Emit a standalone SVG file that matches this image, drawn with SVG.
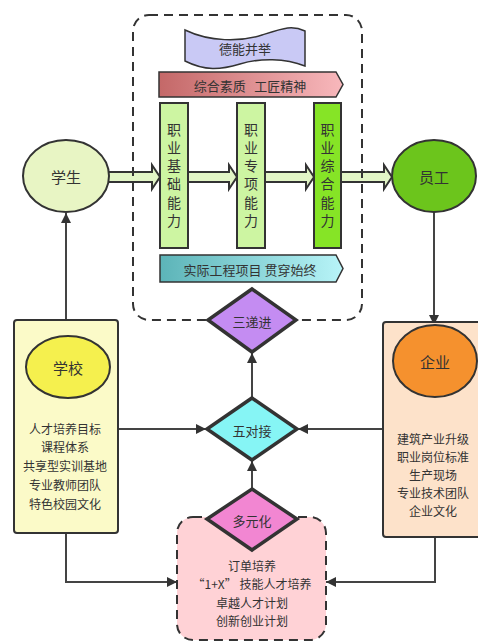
<svg xmlns="http://www.w3.org/2000/svg" width="478" height="642" viewBox="0 0 478 642">
<defs>
<linearGradient id="gRed" x1="0" y1="0" x2="1" y2="0"><stop offset="0" stop-color="#c46868"/><stop offset="1" stop-color="#f8b8bc"/></linearGradient>
<linearGradient id="gTeal" x1="0" y1="0" x2="1" y2="0"><stop offset="0" stop-color="#5cb4b8"/><stop offset="1" stop-color="#b8f4f8"/></linearGradient>
<marker id="ah" viewBox="0 0 10 10" refX="10" refY="5" markerWidth="10" markerHeight="10" markerUnits="userSpaceOnUse" orient="auto"><path d="M0,0 L10,5 L0,10 Z" fill="#333"/></marker>
<style>
text{font-family:"Noto Sans CJK SC","Noto Sans",sans-serif;fill:#333;text-anchor:middle;dominant-baseline:central}
.t{font-size:13px}
.s{font-size:12px}
.b{font-size:15px}
.v{font-size:14px;writing-mode:vertical-rl;letter-spacing:4.2px}
.ln{fill:none;stroke:#444;stroke-width:2}
.fat{fill:#e2f5c6;stroke:#333;stroke-width:2}
.dia{stroke:#333;stroke-width:3.5}
.box{stroke:#333;stroke-width:2}
</style>
</defs>
<g id="connectors">
<path class="ln" d="M66,320 L66,213" marker-end="url(#ah)"/>
<path class="ln" d="M434,212 L434,325" marker-end="url(#ah)"/>
<path class="ln" d="M252,398 L252,353" marker-end="url(#ah)"/>
<path class="ln" d="M252,489 L252,461" marker-end="url(#ah)"/>
<path class="ln" d="M118,429 L206,429" marker-end="url(#ah)"/>
<path class="ln" d="M383,429 L298,429" marker-end="url(#ah)"/>
<path class="ln" d="M66,533 L66,582 L177,582" marker-end="url(#ah)"/>
<path class="ln" d="M435,537 L435,582 L326,582" marker-end="url(#ah)"/>
<polygon class="fat" points="108,172 152,172 152,165 160,177 152,189 152,182 108,182"/>
<polygon class="fat" points="188,172 229,172 229,165 237,177 229,189 229,182 188,182"/>
<polygon class="fat" points="265,172 306,172 306,165 314,177 306,189 306,182 265,182"/>
<polygon class="fat" points="341,172 384,172 384,165 392,177 384,189 384,182 341,182"/>
</g>
<g id="container">
<rect x="133" y="15" width="229" height="305" rx="16" fill="none" stroke="#333" stroke-width="2" stroke-dasharray="9 6"/>
</g>
<g id="deneng">
<path d="M185,30 C210,42 240,42 262,35 S292,25 305,31 L305,66 C285,58 260,58 240,64 S205,71 185,61 Z" fill="#c9c9f5" stroke="#333" stroke-width="1.5"/>
<text class="t" x="245" y="48">德能并举</text>
</g>
<g id="zonghe">
<polygon points="159,72 336,72 343,84.5 336,97 159,97" fill="url(#gRed)" stroke="#333" stroke-width="1.5"/>
<text class="t" x="250" y="85">综合素质&#160;&#160;&#160;工匠精神</text>
</g>
<g id="box1">
<rect class="box" x="160" y="103" width="28" height="145" fill="#cdf5a2"/>
<text class="v" x="174" y="177">职业基础能力</text>
</g>
<g id="box2">
<rect class="box" x="237" y="103" width="28" height="145" fill="#cdf5a2"/>
<text class="v" x="251" y="177">职业专项能力</text>
</g>
<g id="box3">
<rect class="box" x="314" y="103" width="27" height="145" fill="#86e426"/>
<text class="v" x="327.5" y="177">职业综合能力</text>
</g>
<g id="shiji">
<polygon points="160,255 336,255 343,268.5 336,282 160,282" fill="url(#gTeal)" stroke="#333" stroke-width="1.5"/>
<text class="t" x="250" y="269">实际工程项目 贯穿始终</text>
</g>
<g id="xuesheng">
<ellipse cx="66" cy="176" rx="43" ry="36" fill="#e8f5c4" stroke="#333" stroke-width="2"/>
<text class="b" x="66" y="176">学生</text>
</g>
<g id="yuangong">
<ellipse cx="434" cy="176" rx="42" ry="36" fill="#6cc51c" stroke="#333" stroke-width="2"/>
<text class="b" x="434" y="176">员工</text>
</g>
<g id="sandijin">
<polygon class="dia" points="252,289 296,320 252,352 208,320" fill="#c48cf2"/>
<text class="t" x="252" y="321">三递进</text>
</g>
<g id="xuexiao">
<rect class="box" x="14" y="320" width="104" height="213" rx="3" fill="#fbfac8"/>
<ellipse cx="68" cy="367" rx="42" ry="31" fill="#f5f04e" stroke="#333" stroke-width="2"/>
<text class="b" x="68" y="367">学校</text>
<text class="s" x="65" y="428">人才培养目标</text>
<text class="s" x="65" y="446">课程体系</text>
<text class="s" x="65" y="465">共享型实训基地</text>
<text class="s" x="65" y="484">专业教师团队</text>
<text class="s" x="65" y="503">特色校园文化</text>
</g>
<g id="qiye">
<rect class="box" x="383" y="322" width="104" height="215" rx="3" fill="#fde2ca"/>
<ellipse cx="435" cy="361" rx="42" ry="36" fill="#f5912e" stroke="#333" stroke-width="2"/>
<text class="b" x="435" y="361">企业</text>
<text class="s" x="433" y="438">建筑产业升级</text>
<text class="s" x="433" y="456">职业岗位标准</text>
<text class="s" x="433" y="474">生产现场</text>
<text class="s" x="433" y="492">专业技术团队</text>
<text class="s" x="433" y="510">企业文化</text>
</g>
<g id="wuduijie">
<polygon class="dia" points="252,398 297,429 252,460 207,429" fill="#86f5f5"/>
<text class="t" x="252" y="430">五对接</text>
</g>
<g id="duoyuan">
<rect x="177" y="517" width="149" height="123" rx="16" fill="#ffd2d6" stroke="#333" stroke-width="2" stroke-dasharray="9 6"/>
<polygon class="dia" points="252,489 297,519 252,550 207,519" fill="#f286d2"/>
<text class="t" x="252" y="520">多元化</text>
<text class="s" x="252" y="565">订单培养</text>
<text class="s" x="252" y="583">“1+X” 技能人才培养</text>
<text class="s" x="252" y="602">卓越人才计划</text>
<text class="s" x="252" y="620">创新创业计划</text>
</g>
</svg>
